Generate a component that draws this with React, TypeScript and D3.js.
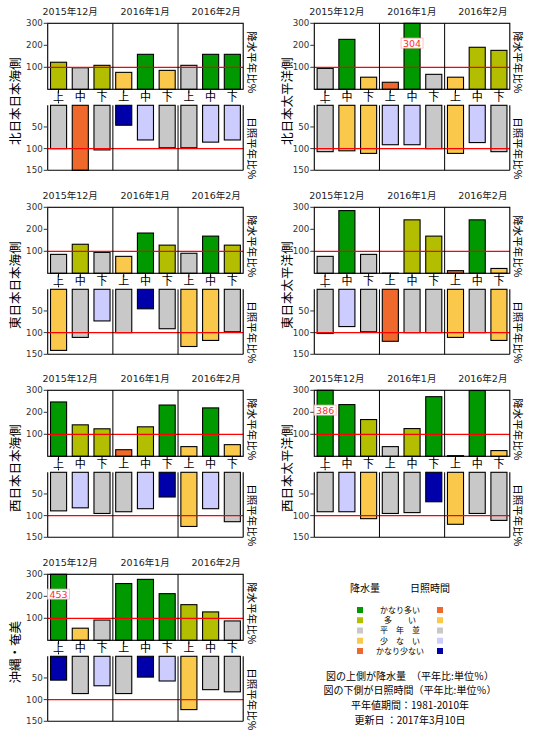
import React from 'react';
import * as d3 from 'd3';

const regions = ['北日本日本海側', '北日本太平洋側', '東日本日本海側', '東日本太平洋側', '西日本日本海側', '西日本太平洋側', '沖縄・奄美'];
const months = ['2015年12月', '2016年1月', '2016年2月'];
const periods = ['上', '中', '下'];

// precipitation, % of normal, per 10-day period
const precip = [
  [123, 98, 109, 77, 159, 86, 109, 159, 159],
  [95, 227, 55, 32, 304, 68, 55, 191, 177],
  [86, 132, 95, 77, 183, 128, 91, 169, 128],
  [77, 285, 86, 1, 243, 169, 12, 243, 22],
  [247, 143, 125, 30, 134, 233, 44, 220, 53],
  [386, 235, 167, 44, 126, 271, 3, 299, 26],
  [453, 55, 92, 258, 277, 212, 162, 129, 88],
];
// A: かなり多い  B: 多い  N: 平年並  C: 少ない  D: かなり少ない
const precipClass = [
  ['B', 'N', 'B', 'C', 'A', 'C', 'N', 'A', 'A'],
  ['N', 'A', 'C', 'D', 'A', 'N', 'C', 'B', 'B'],
  ['N', 'B', 'N', 'C', 'A', 'B', 'N', 'A', 'B'],
  ['N', 'A', 'N', 'D', 'B', 'B', 'D', 'A', 'C'],
  ['A', 'B', 'B', 'D', 'B', 'A', 'C', 'A', 'C'],
  ['A', 'A', 'B', 'N', 'B', 'A', 'D', 'A', 'C'],
  ['A', 'C', 'N', 'A', 'A', 'A', 'B', 'B', 'N'],
];

// sunshine duration, % of normal
const sunshine = [
  [100, 150, 103, 46, 80, 98, 98, 85, 80],
  [107, 105, 111, 91, 91, 100, 111, 86, 107],
  [141, 111, 73, 100, 45, 91, 132, 118, 98],
  [102, 86, 98, 120, 100, 100, 111, 100, 118],
  [89, 82, 95, 91, 84, 57, 125, 84, 114],
  [91, 91, 107, 95, 93, 68, 120, 95, 111],
  [55, 86, 68, 86, 48, 57, 123, 77, 82],
];
const sunClass = [
  ['N', 'A', 'N', 'D', 'C', 'N', 'N', 'C', 'C'],
  ['N', 'B', 'B', 'C', 'C', 'N', 'B', 'C', 'N'],
  ['B', 'N', 'C', 'N', 'D', 'N', 'B', 'B', 'N'],
  ['N', 'C', 'N', 'A', 'N', 'N', 'B', 'N', 'B'],
  ['N', 'C', 'N', 'N', 'C', 'D', 'B', 'C', 'N'],
  ['N', 'C', 'B', 'N', 'N', 'D', 'B', 'N', 'N'],
  ['D', 'N', 'C', 'N', 'D', 'C', 'B', 'N', 'N'],
];

const classKeys = ['A', 'B', 'N', 'C', 'D'];
const classNames = ['かなり多い', '多　　い', '平　年　並', '少　な　い', 'かなり少ない'];
const precipColors = ['#009900', '#b4be00', '#c8c8c8', '#fac84a', '#f0692c'];
const sunColors = ['#f0692c', '#fac84a', '#c8c8c8', '#ccccff', '#0000aa'];

const upperTicks = [100, 200, 300];
const lowerTicks = [50, 100, 150];

const notes = [
  '図の上側が降水量　（平年比:単位％）',
  '図の下側が日照時間（平年比:単位％）',
  '平年値期間：1981-2010年',
  '更新日 ：2017年3月10日',
];

const FONT = "'DejaVu Sans', 'Noto Sans CJK JP', sans-serif";
const JP = "'Noto Sans CJK JP', sans-serif";

const colLeft = [47.7, 314.3];
const regionLabelX = [14, 286];
const rowTop = [23.3, 207.3, 390.3, 574.3];
const plotW = 195.5;
const upperH = 66;
const gapH = 16;
const lowerH = 65;
const monthLabelX = [22.5, 97.5, 168.5];

const precipColor = d3.scaleOrdinal<string, string>().domain(classKeys).range(precipColors);
const sunColor = d3.scaleOrdinal<string, string>().domain(classKeys).range(sunColors);

const x = d3
  .scaleBand<number>()
  .domain(d3.range(9))
  .range([0, plotW])
  .paddingInner(0.26)
  .paddingOuter(0.13);
const yU = d3.scaleLinear().domain([0, 300]).range([upperH, 0]);
const yL = d3.scaleLinear().domain([0, 150]).range([0, lowerH]);

function Panel({ idx }: { idx: number }) {
  const col = idx % 2;
  const row = Math.floor(idx / 2);
  const left = colLeft[col];
  const top = rowTop[row];
  const lowerTop = upperH + gapH;
  const step = x.step();
  const dividers = [3, 6].map((k) => k * step);

  return (
    <g transform={`translate(${left},${top})`}>
      {months.map((m, i) => (
        <text key={m} x={monthLabelX[i]} y={-8.3} textAnchor="middle" fontSize={9.5} fontFamily={FONT} fill="#222">
          {m}
        </text>
      ))}

      {/* upper: precipitation */}
      {precip[idx].map((v, i) => {
        const vv = Math.min(v, 300);
        return (
          <rect
            key={`p${i}`}
            x={x(i)}
            y={yU(vv)}
            width={x.bandwidth()}
            height={upperH - yU(vv)}
            fill={precipColor(precipClass[idx][i])}
            stroke="#000"
            strokeWidth={1.1}
          />
        );
      })}
      <line x1={0} x2={plotW} y1={yU(100)} y2={yU(100)} stroke="#ff0000" strokeWidth={1.3} />
      {dividers.map((d) => (
        <line key={`du${d}`} x1={d} x2={d} y1={0} y2={upperH} stroke="#000" strokeWidth={1} />
      ))}
      <rect x={0} y={0} width={plotW} height={upperH} fill="none" stroke="#000" strokeWidth={1.1} />
      {upperTicks.map((t) => (
        <g key={`tu${t}`}>
          <line x1={-4} x2={0} y1={yU(t)} y2={yU(t)} stroke="#333" />
          <text x={-5} y={yU(t)} dy="0.35em" textAnchor="end" fontSize={8.7} fontFamily={FONT} fill="#333">
            {t}
          </text>
        </g>
      ))}
      {precip[idx].map((v, i) =>
        v > 300 ? (
          <g key={`o${i}`} transform={`translate(${x(i)! + x.bandwidth() / 2},${yU(210)})`}>
            <rect x={-11} y={-5} width={22} height={10} fill="#fff" stroke="#ffb4b4" strokeWidth={0.8} />
            <text y={0} dy="0.36em" textAnchor="middle" fontSize={9.5} fontFamily={FONT} fill="#ff3030">
              {v}
            </text>
          </g>
        ) : null,
      )}

      {/* category labels and ticks */}
      {d3.range(9).map((i) => {
        const cx = x(i)! + x.bandwidth() / 2;
        return (
          <g key={`c${i}`}>
            <line x1={cx} x2={cx} y1={upperH} y2={upperH + 4} stroke="#000" />
            <text x={cx} y={upperH + 12} textAnchor="middle" fontSize={11} fontFamily={JP} fill="#000">
              {periods[i % 3]}
            </text>
          </g>
        );
      })}
      <line
        x1={x(0)! + x.bandwidth() / 2}
        x2={x(0)! + x.bandwidth() / 2}
        y1={upperH + 12}
        y2={lowerTop + 7}
        stroke="#000"
        strokeDasharray="2,2"
      />

      {/* lower: sunshine */}
      <g transform={`translate(0,${lowerTop})`}>
        {sunshine[idx].map((v, i) => {
          const vv = Math.min(v, 150);
          return (
            <rect
              key={`s${i}`}
              x={x(i)}
              y={0}
              width={x.bandwidth()}
              height={yL(vv)}
              fill={sunColor(sunClass[idx][i])}
              stroke="#000"
              strokeWidth={1.1}
            />
          );
        })}
        <line x1={0} x2={plotW} y1={yL(100)} y2={yL(100)} stroke="#ff0000" strokeWidth={1.3} />
        {dividers.map((d) => (
          <line key={`dl${d}`} x1={d} x2={d} y1={0} y2={lowerH} stroke="#000" strokeWidth={1} />
        ))}
        <line x1={0} x2={0} y1={0} y2={lowerH} stroke="#000" strokeWidth={1.1} />
        <line x1={plotW} x2={plotW} y1={0} y2={lowerH} stroke="#000" strokeWidth={1.1} />
        <line x1={0} x2={plotW} y1={lowerH} y2={lowerH} stroke="#000" strokeWidth={1.1} />
        {lowerTicks.map((t) => (
          <g key={`tl${t}`}>
            <line x1={-4} x2={0} y1={yL(t)} y2={yL(t)} stroke="#333" />
            <text x={-5} y={yL(t)} dy="0.35em" textAnchor="end" fontSize={8.7} fontFamily={FONT} fill="#333">
              {t}
            </text>
          </g>
        ))}
        <text
          transform={`translate(${plotW + 9},${43}) rotate(90)`}
          textAnchor="middle"
          dominantBaseline="central"
          fontSize={10.5}
          fontFamily={JP}
          fill="#000"
        >
          日照平年比%
        </text>
      </g>

      <text
        transform={`translate(${plotW + 9},${39}) rotate(90)`}
        textAnchor="middle"
        dominantBaseline="central"
        fontSize={10.5}
        fontFamily={JP}
        fill="#000"
      >
        降水平年比%
      </text>
      <text
        transform={`translate(${regionLabelX[col] - left},${78}) rotate(-90)`}
        textAnchor="middle"
        dominantBaseline="central"
        fontSize={12.5}
        fontFamily={JP}
        fill="#000"
      >
        {regions[idx]}
      </text>
    </g>
  );
}

function Legend() {
  const rowY = d3.scaleLinear().domain([0, 4]).range([610, 651]);
  return (
    <g fontFamily={JP} fill="#000">
      <text x={365} y={592} textAnchor="middle" fontSize={10}>降水量</text>
      <text x={430} y={592} textAnchor="middle" fontSize={10}>日照時間</text>
      {classKeys.map((k, i) => (
        <g key={k}>
          <rect x={357} y={rowY(i) - 3} width={6} height={6} fill={precipColor(k)} />
          <text x={400} y={rowY(i)} dy="0.35em" textAnchor="middle" fontSize={8}>
            {classNames[i]}
          </text>
          <rect x={437} y={rowY(i) - 3} width={6} height={6} fill={sunColor(k)} />
        </g>
      ))}
      {notes.map((n, i) => (
        <text key={n} x={410} y={679.5 + i * 14.8} textAnchor="middle" fontSize={10}>
          {n}
        </text>
      ))}
    </g>
  );
}

export default function App() {
  return (
    <svg
      width={550}
      height={750}
      style={{ position: 'absolute', left: 0, top: 0, background: '#fff' }}
    >
      <rect width={550} height={750} fill="#fff" />
      {regions.map((r, i) => (
        <Panel key={r} idx={i} />
      ))}
      <Legend />
    </svg>
  );
}
